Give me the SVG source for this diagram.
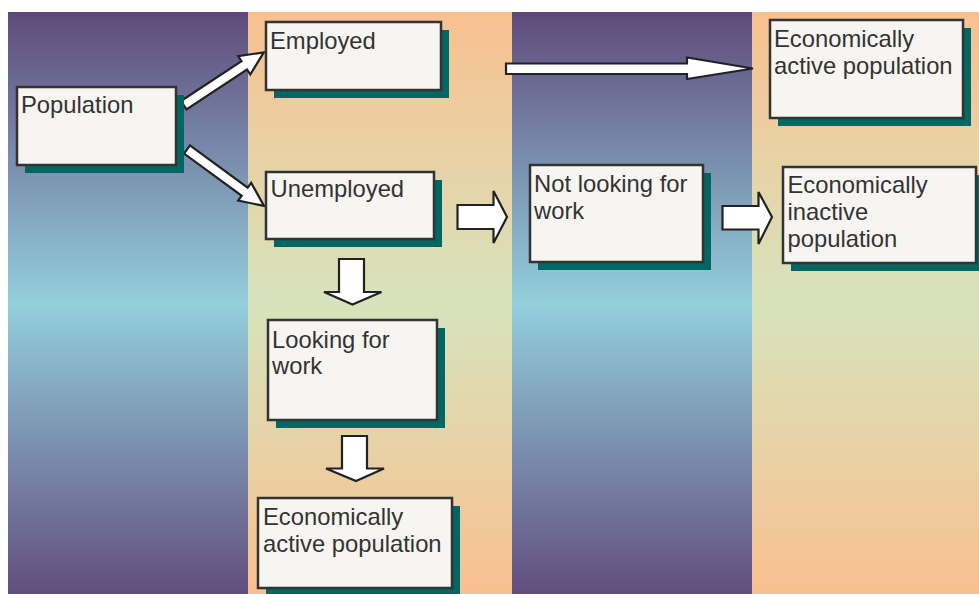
<svg xmlns="http://www.w3.org/2000/svg" width="979" height="594" viewBox="0 0 979 594">
  <defs>
    <linearGradient id="gBlue" x1="0" y1="0" x2="0" y2="1">
      <stop offset="0" stop-color="#5f4a7a"/>
      <stop offset="0.5" stop-color="#93cfdd"/>
      <stop offset="1" stop-color="#624e7d"/>
    </linearGradient>
    <linearGradient id="gPeach" x1="0" y1="0" x2="0" y2="1">
      <stop offset="0" stop-color="#f9c08f"/>
      <stop offset="0.5" stop-color="#d7e3bc"/>
      <stop offset="1" stop-color="#f9c08f"/>
    </linearGradient>
    <style>
      .shadow { fill: #006762; }
      .box { fill: #f6f5f1; stroke: #333333; stroke-width: 2.5; }
      .lbl { font-family: "Liberation Sans", Arial, sans-serif; font-size: 23.8px; fill: #333333; }
      .arrow { fill: #ffffff; stroke: #222222; stroke-width: 2.2; stroke-linejoin: miter; }
    </style>
  </defs>

  <g id="background">
    <rect x="8" y="12" width="240" height="582" fill="url(#gBlue)"/>
    <rect x="248" y="12" width="264" height="582" fill="url(#gPeach)"/>
    <rect x="512" y="12" width="240" height="582" fill="url(#gBlue)"/>
    <rect x="752" y="12" width="227" height="582" fill="url(#gPeach)"/>
  </g>

  <g id="connectors">
    <polygon class="arrow" transform="translate(183.7,105.2) rotate(-33.4)" points="0,-5 72.5,-5 72.5,-11 96,0 72.5,11 72.5,5 0,5"/>
    <polygon class="arrow" transform="translate(187,149.5) rotate(36.2)" points="0,-5 71.5,-5 71.5,-11 95.5,0 71.5,11 71.5,5 0,5"/>
    <polygon class="arrow" points="506,63.5 687,63.5 687,57.5 753,68.5 687,79 687,74 506,74"/>
    <polygon class="arrow" points="457.5,205 493.5,205 493.5,191 507,217 493.5,243 493.5,229 457.5,229"/>
    <polygon class="arrow" points="722.5,206 758.5,206 758.5,192 772,217 758.5,244 758.5,229.5 722.5,229.5"/>
    <polygon class="arrow" points="339,259 364,259 364,292 381.5,292 352.5,304.5 324,292 339,292"/>
    <polygon class="arrow" points="342,436 367,436 367,468.5 384,468.5 356,481 326,468.5 342,468.5"/>
  </g>

  <g id="population">
    <rect class="shadow" x="25" y="95" width="159" height="78"/>
    <rect class="box" x="17" y="87" width="159" height="78"/>
    <text class="lbl" x="21" y="112.5">Population</text>
  </g>

  <g id="employed">
    <rect class="shadow" x="274" y="30" width="175" height="68"/>
    <rect class="box" x="266" y="22" width="175" height="68"/>
    <text class="lbl" x="270" y="48.5">Employed</text>
  </g>

  <g id="unemployed">
    <rect class="shadow" x="274" y="180" width="168" height="67"/>
    <rect class="box" x="266" y="172" width="168" height="67"/>
    <text class="lbl" x="270.5" y="197">Unemployed</text>
  </g>

  <g id="looking">
    <rect class="shadow" x="276" y="328" width="169" height="100"/>
    <rect class="box" x="268" y="320" width="169" height="100"/>
    <text class="lbl" x="272" y="347.5">Looking for</text>
    <text class="lbl" x="272" y="374">work</text>
  </g>

  <g id="active-bottom">
    <rect class="shadow" x="266" y="506" width="194" height="90"/>
    <rect class="box" x="258" y="498" width="194" height="90"/>
    <text class="lbl" x="263" y="525">Economically</text>
    <text class="lbl" x="263" y="552">active population</text>
  </g>

  <g id="not-looking">
    <rect class="shadow" x="538" y="173" width="173" height="97"/>
    <rect class="box" x="530" y="165" width="173" height="97"/>
    <text class="lbl" x="534" y="191.5">Not looking for</text>
    <text class="lbl" x="534" y="218.5">work</text>
  </g>

  <g id="active-top">
    <rect class="shadow" x="778" y="28" width="193" height="98"/>
    <rect class="box" x="770" y="20" width="193" height="98"/>
    <text class="lbl" x="774" y="47">Economically</text>
    <text class="lbl" x="774" y="74">active population</text>
  </g>

  <g id="inactive">
    <rect class="shadow" x="791" y="175" width="193" height="96"/>
    <rect class="box" x="783" y="167" width="193" height="96"/>
    <text class="lbl" x="787.5" y="193">Economically</text>
    <text class="lbl" x="787.5" y="220">inactive</text>
    <text class="lbl" x="787.5" y="247">population</text>
  </g>
</svg>
